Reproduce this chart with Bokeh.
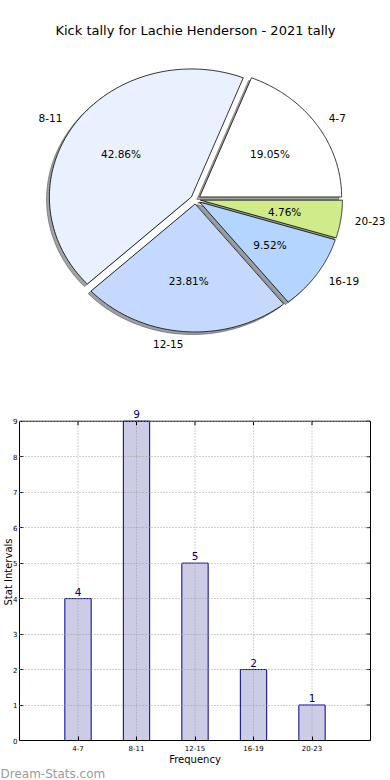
import numpy as np
from bokeh.plotting import figure
from bokeh.models import Range1d, ColumnDataSource, LabelSet, FixedTicker, Title, LinearAxis, Span
from bokeh.layouts import column
from bokeh.embed import file_html
from bokeh.resources import INLINE
from bokeh.core.properties import value

# ---------------- data ----------------
title_text = "Kick tally for Lachie Henderson - 2021 tally"
categories = ["4-7", "8-11", "12-15", "16-19", "20-23"]
counts = [4, 9, 5, 2, 1]
pie_colors = ["#ffffff", "#eaf1fe", "#c5d9ff", "#b4d5ff", "#d0ec8a"]
y_ticks = [0, 1, 2, 3, 4, 5, 6, 7, 8, 9]
x_label = "Frequency"
y_label = "Stat Intervals"
watermark = "Dream-Stats.com"

# ---------------- layout / style ----------------
FONT = "DejaVu Sans"
W = 390
H_PIE = 395
H_BAR = 385
RX, RY = 142.0, 128.0      # pie radii in pixels (the pie is drawn slightly elliptical)
CX = 195.0                 # pie centre, pixels from the left
CY = H_PIE - 199.0         # pie centre, pixels from the bottom of the pie figure
EXPLODE = 0.035
SHADOW = 0.02
Y_HEADROOM = 0.5           # room above the axes box for the value label of the tallest bar

# ---------------- pie (data units = pixels) ----------------
pie = figure(width=W, height=H_PIE,
             x_range=Range1d(0, W), y_range=Range1d(0, H_PIE), match_aspect=False,
             x_axis_type=None, y_axis_type=None, frame_align=False,
             output_backend="svg", toolbar_location=None, min_border=0)
pie.grid.visible = False
pie.outline_line_color = None

total = float(sum(counts))
fracs = np.array(counts) / total
edges = np.concatenate([[0.0], np.cumsum(fracs)]) * 2 * np.pi

wx, wy, shx, shy, shc = [], [], [], [], []
lab_l = dict(x=[], y=[], t=[])
lab_r = dict(x=[], y=[], t=[])
pct = dict(x=[], y=[], t=[])
for i, (a0, a1) in enumerate(zip(edges[:-1], edges[1:])):
    mid = (a0 + a1) / 2
    ox = CX + EXPLODE * RX * np.cos(mid)
    oy = CY + EXPLODE * RY * np.sin(mid)
    t = np.linspace(a0, a1, 120)
    x = np.concatenate([[ox], ox + RX * np.cos(t), [ox]])
    y = np.concatenate([[oy], oy + RY * np.sin(t), [oy]])
    wx.append(list(x)); wy.append(list(y))
    shx.append(list(x - SHADOW * RX)); shy.append(list(y - SHADOW * RY))
    c = pie_colors[i].lstrip("#")
    rgb = [int(c[k:k + 2], 16) for k in (0, 2, 4)]
    shc.append("#%02x%02x%02x" % tuple(int(0.3 * v) for v in rgb))
    lx, ly = ox + 1.1 * RX * np.cos(mid), oy + 1.1 * RY * np.sin(mid)
    d = lab_l if np.cos(mid) > 0 else lab_r
    d["x"].append(lx); d["y"].append(ly); d["t"].append(categories[i])
    pct["x"].append(ox + 0.6 * RX * np.cos(mid)); pct["y"].append(oy + 0.6 * RY * np.sin(mid))
    pct["t"].append("%.2f%%" % (100 * fracs[i]))

pie.patches(shx, shy, fill_color=shc, fill_alpha=0.5, line_color=shc, line_alpha=0.5, line_width=1)
pie.patches(wx, wy, fill_color=pie_colors, line_color="black", line_width=0.8)

txt = dict(text_font=value(FONT), text_font_size="10.5px", text_color="black", text_baseline="middle")
pie.text(x="x", y="y", text="t", source=ColumnDataSource(lab_l), text_align="left", **txt)
pie.text(x="x", y="y", text="t", source=ColumnDataSource(lab_r), text_align="right", **txt)
pie.text(x="x", y="y", text="t", source=ColumnDataSource(pct), text_align="center", **txt)
pie.text(x=[CX], y=[H_PIE - 30], text=[title_text], text_align="center", text_baseline="middle",
         text_font=value(FONT), text_font_size="13px", text_color="black")

# ---------------- bar ----------------
X0, X1 = -1, 5
Y0, Y1 = y_ticks[0], y_ticks[-1]
bar = figure(width=W, height=H_BAR, x_range=Range1d(X0, X1), y_range=Range1d(Y0, Y1 + Y_HEADROOM),
             output_backend="svg", toolbar_location=None, frame_align=False,
             min_border_top=8, min_border_right=20, min_border_left=0, min_border_bottom=40)
bar.outline_line_color = None
x_pos = list(range(len(categories)))
src = ColumnDataSource(dict(x=x_pos, top=counts, label=[str(c) for c in counts]))
bar.vbar(x="x", top="top", width=0.45, source=src, fill_color="#ccccE6", line_color="#000080", line_width=1)

# dotted grid (vertical lines stop at the top of the axes box)
bar.segment(x0=x_pos, y0=[Y0] * len(x_pos), x1=x_pos, y1=[Y1] * len(x_pos),
            line_color="#a0a0a0", line_dash="1 2", line_width=1)
bar.xgrid.visible = False
bar.ygrid.ticker = FixedTicker(ticks=y_ticks)
bar.ygrid.grid_line_color = "#a0a0a0"
bar.ygrid.grid_line_dash = "1 2"
bar.ygrid.level = "overlay"

bar.add_layout(LabelSet(x="x", y="top", text="label", source=src, y_offset=3, text_align="center",
                        text_baseline="bottom", text_color="#000080", text_font_size="10.5px",
                        text_font=value(FONT)))

# left / bottom axes
bar.xaxis.ticker = FixedTicker(ticks=x_pos)
bar.xaxis.major_label_overrides = {i: c for i, c in enumerate(categories)}
bar.yaxis.ticker = FixedTicker(ticks=y_ticks)
bar.yaxis.bounds = (Y0, Y1)
bar.xaxis.axis_label = x_label
bar.yaxis.axis_label = y_label
for ax in (bar.xaxis, bar.yaxis):
    ax.major_tick_in = 4
    ax.major_tick_out = 0
    ax.minor_tick_line_color = None
    ax.major_label_text_font = FONT
    ax.major_label_text_font_size = "7px"
    ax.major_label_text_color = "black"
    ax.axis_label_text_font = FONT
    ax.axis_label_text_font_size = "10px"
    ax.axis_label_text_font_style = "normal"
    ax.axis_label_text_color = "black"
    ax.axis_line_color = "black"
    ax.major_tick_line_color = "black"
bar.xaxis.major_label_standoff = 4
bar.xaxis.axis_label_standoff = 0
bar.yaxis.major_label_standoff = 2
bar.yaxis.axis_label_standoff = -4

# top and right spines, with inward tick marks
bar.add_layout(Span(location=Y1, dimension="width", line_color="black", line_width=1))
bar.ray(x=x_pos, y=[Y1] * len(x_pos), length=4, length_units="screen", angle=-np.pi / 2,
        line_color="black", line_width=1)
bar.ray(x=[X1] * len(y_ticks), y=y_ticks, length=4, length_units="screen", angle=np.pi,
        line_color="black", line_width=1)
right_spine = LinearAxis(ticker=FixedTicker(ticks=[]), bounds=(Y0, Y1), axis_line_color="black",
                         major_tick_line_color=None, minor_tick_line_color=None)
bar.add_layout(right_spine, "right")

bar.add_layout(Title(text=watermark, align="left", text_color="#9a9a9a", text_font_size="12px",
                     text_font=FONT, text_font_style="normal", standoff=-5, offset=-19), "below")

layout = column(pie, bar)
open("out.html", "w").write(file_html(layout, INLINE))
